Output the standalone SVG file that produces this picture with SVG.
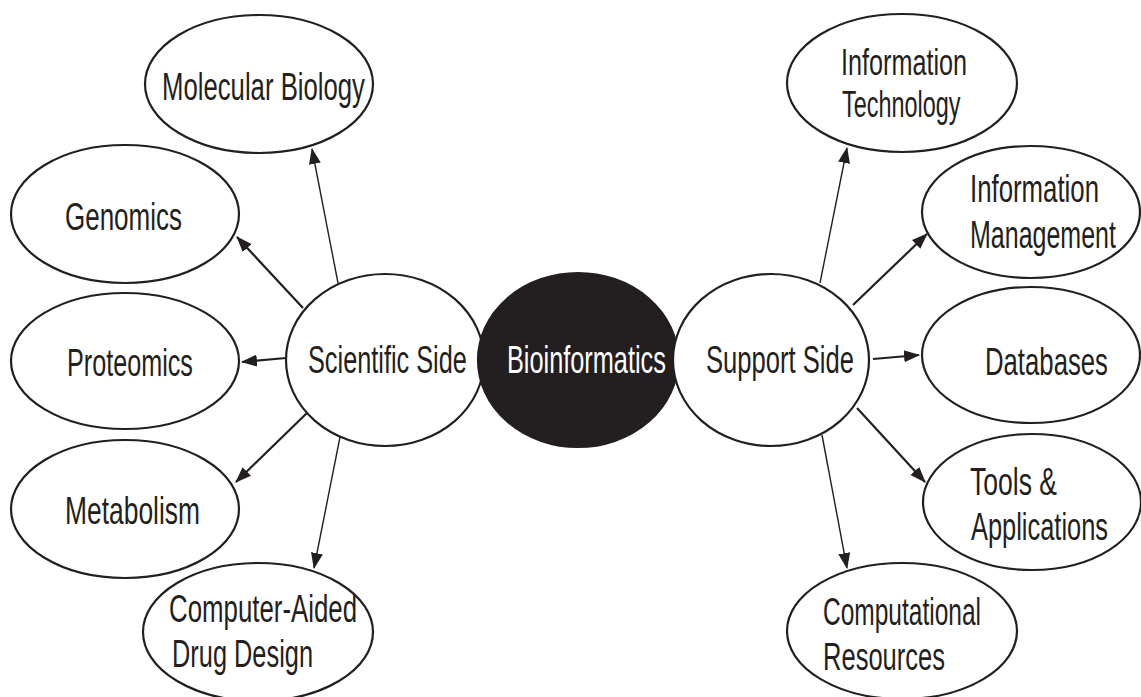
<svg xmlns="http://www.w3.org/2000/svg" width="1141" height="697" viewBox="0 0 1141 697">
<style>
.n{fill:#fff;stroke:#231f20;stroke-width:2.2}
.c{fill:#231f20;stroke:#231f20;stroke-width:2.2}
.t{font-family:"Liberation Sans",Arial,sans-serif;font-size:38px;fill:#231f20}
.s{font-size:37px}
.w{fill:#fff}
.e{stroke:#231f20;stroke-width:2.2;fill:none;marker-end:url(#ah)}
.e1{stroke-width:1.4}
</style>
<defs>
<marker id="ah" markerUnits="userSpaceOnUse" markerWidth="16" markerHeight="14" refX="15" refY="6" orient="auto" viewBox="0 0 16 12">
<path d="M0,0 L16,6 L0,12 Z" fill="#231f20"/>
</marker>
</defs>
<rect width="1141" height="697" fill="#fff"/>
<g id="connectors">
<line class="e e1" x1="338" y1="283" x2="312" y2="149"/>
<line class="e" x1="303" y1="308" x2="237" y2="237"/>
<line class="e" x1="286" y1="358" x2="242" y2="362"/>
<line class="e" x1="308" y1="412" x2="236" y2="482"/>
<line class="e e1" x1="340" y1="437" x2="314" y2="568"/>
<line class="e e1" x1="820" y1="283" x2="847" y2="148"/>
<line class="e" x1="853" y1="305" x2="927" y2="234"/>
<line class="e" x1="873" y1="359" x2="919" y2="355"/>
<line class="e" x1="857" y1="408" x2="925" y2="482"/>
<line class="e e1" x1="822" y1="435" x2="847" y2="568"/>
</g>
<g id="scientific">
<ellipse class="n" cx="385" cy="360" rx="99" ry="86"/>
<text class="t" transform="translate(308,373) scale(0.666,1)">Scientific Side</text>
</g>
<g id="bioinformatics">
<ellipse class="c" cx="578" cy="360" rx="100" ry="87"/>
<text class="t w" transform="translate(507,373) scale(0.666,1)">Bioinformatics</text>
</g>
<g id="support">
<ellipse class="n" cx="771" cy="360" rx="98" ry="86"/>
<text class="t" transform="translate(706,373) scale(0.674,1)">Support Side</text>
</g>
<g id="molecular-biology">
<ellipse class="n" cx="259" cy="84" rx="114" ry="69"/>
<text class="t" transform="translate(162,100) scale(0.677,1)">Molecular Biology</text>
</g>
<g id="genomics">
<ellipse class="n" cx="125" cy="214" rx="114" ry="69"/>
<text class="t" transform="translate(65,230) scale(0.684,1)">Genomics</text>
</g>
<g id="proteomics">
<ellipse class="n" cx="125" cy="361" rx="114" ry="68"/>
<text class="t" transform="translate(67,376) scale(0.663,1)">Proteomics</text>
</g>
<g id="metabolism">
<ellipse class="n" cx="125" cy="509" rx="114" ry="69"/>
<text class="t" transform="translate(65,524) scale(0.695,1)">Metabolism</text>
</g>
<g id="cadd">
<ellipse class="n" cx="258" cy="632" rx="115" ry="69"/>
<text class="t" transform="translate(169,622) scale(0.68,1)">Computer-Aided</text>
<text class="t" transform="translate(172,667) scale(0.668,1)">Drug Design</text>
</g>
<g id="information-technology">
<ellipse class="n" cx="902" cy="83" rx="115" ry="69"/>
<text class="t s" transform="translate(841,75) scale(0.681,1)">Information</text>
<text class="t s" transform="translate(842,117) scale(0.633,1)">Technology</text>
</g>
<g id="information-management">
<ellipse class="n" cx="1031" cy="212" rx="109" ry="66"/>
<text class="t" transform="translate(970,202) scale(0.679,1)">Information</text>
<text class="t" transform="translate(970,248) scale(0.658,1)">Management</text>
</g>
<g id="databases">
<ellipse class="n" cx="1031" cy="355" rx="109" ry="68"/>
<text class="t" transform="translate(985,375) scale(0.677,1)">Databases</text>
</g>
<g id="tools">
<ellipse class="n" cx="1032" cy="502" rx="109" ry="68"/>
<text class="t" transform="translate(970,495) scale(0.699,1)">Tools &amp;</text>
<text class="t" transform="translate(971,540) scale(0.669,1)">Applications</text>
</g>
<g id="computational-resources">
<ellipse class="n" cx="902" cy="631" rx="115" ry="68"/>
<text class="t" transform="translate(823,625) scale(0.645,1)">Computational</text>
<text class="t" transform="translate(823,670) scale(0.672,1)">Resources</text>
</g>
</svg>
